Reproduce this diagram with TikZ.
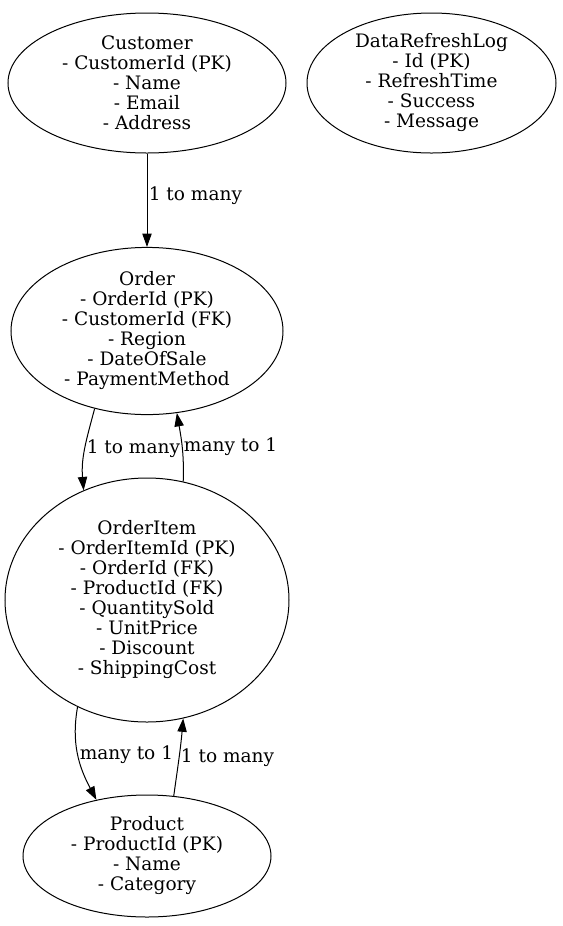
\documentclass[tikz,border=0pt]{standalone}
\usepackage{fontspec}
\setmainfont{DejaVu Serif}
\usepackage{tikz}
\usetikzlibrary{
        shapes.geometric,
        positioning,
        arrows.meta
    }

\begin{document}
\begin{tikzpicture}
[x=0.75pt, y=-0.75pt,
baseshape/.style={ellipse, draw=black, line width=0.75pt, inner sep=0pt, align=center, font=\fontsize{13.9}{15}\selectfont},
entity/.style={baseshape},
arrow/.style={line width=0.75pt, -{Triangle[length=10pt, width=7pt]}},
lbl/.style={anchor=west, inner sep=1pt, font=\fontsize{13.9}{15}\selectfont}]
    \useasboundingbox (0,0) rectangle (562,926);
    \node (customer) [entity, minimum width=208.5pt, minimum height=105pt] at (147,83) {Customer\\ - CustomerId (PK)\\ - Name\\ - Email\\ - Address};
    \node (refreshlog) [entity, minimum width=186.75pt, minimum height=105pt] at (431.5,83) {DataRefreshLog\\ - Id (PK)\\ - RefreshTime\\ - Success\\ - Message};
    \node (order) [entity, minimum width=204pt, minimum height=123pt] at (147,331) {Order\\ - OrderId (PK)\\ - CustomerId (FK)\\ - Region\\ - DateOfSale\\ - PaymentMethod};
    \node (orderitem) [entity, minimum width=213pt, minimum height=183pt] at (147,600) {OrderItem\\ - OrderItemId (PK)\\ - OrderId (FK)\\ - ProductId (FK)\\ - QuantitySold\\ - UnitPrice\\ - Discount\\ - ShippingCost};
    \node (product) [entity, minimum width=186pt, minimum height=91.5pt] at (147,856) {Product\\ - ProductId (PK)\\ - Name\\ - Category};
    \draw[arrow] (customer) -- node[lbl, pos=0.45]{1 to many} (order);
    \draw[arrow] (order.236) to[out=-105, in=95] node[lbl, pos=0.5]{1 to many} (orderitem.120);
    \draw[arrow] (orderitem.73) to[out=88, in=-80] node[lbl, pos=0.5]{many to 1} (order.290);
    \draw[arrow] (orderitem.237) to[out=-100, in=118] node[lbl, pos=0.5]{many to 1} (product.132);
    \draw[arrow] (product.66) to[out=82, in=-95] node[lbl, pos=0.5]{1 to many} (orderitem.287);
\end{tikzpicture}
\end{document}
